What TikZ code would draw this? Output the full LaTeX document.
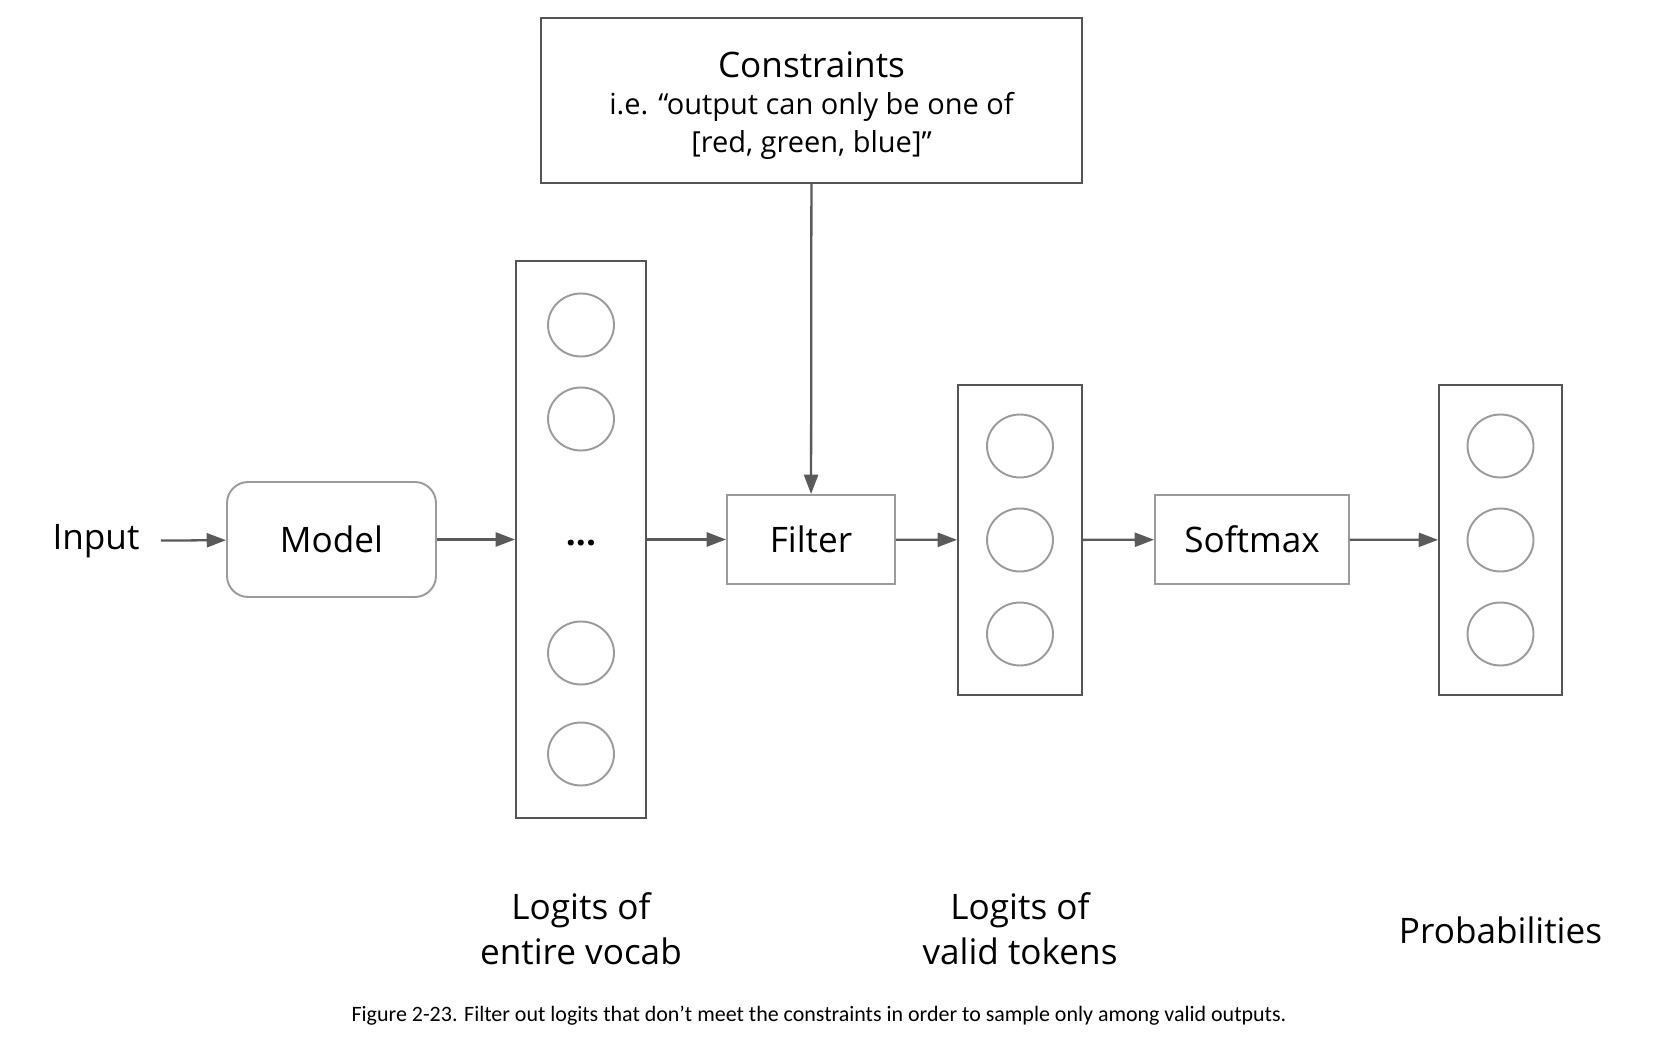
\documentclass[tikz,border=0pt]{standalone}
\usepackage{fontspec}
\setmainfont{Open Sans}
\newfontfamily\captionfont{Carlito}
\usetikzlibrary{positioning, shapes.geometric, arrows.meta}
\definecolor{fgDark}{RGB}{85,85,85}
\definecolor{fgLight}{RGB}{155,155,155}
\definecolor{fgArrow}{RGB}{90,90,90}

\begin{document}
\begin{tikzpicture}[x=0.02cm, y=-0.02cm, font=\fontsize{20}{24}\selectfont,
	darkbox/.style={draw=fgDark, line width=1.1pt, inner sep=0pt},
	lightbox/.style={draw=fgLight, line width=1.1pt, minimum height=1.78cm, inner sep=0pt},
	token/.style={draw=fgLight, line width=1.1pt, ellipse, minimum width=1.32cm, minimum height=1.26cm, inner sep=0pt},
	flow/.style={-{Triangle[length=11pt,width=8pt]}, line width=1.3pt, draw=fgArrow},
	caption/.style={align=center, font=\fontsize{20}{25.6}\selectfont}]
	\useasboundingbox (0,0) rectangle (1666,1050);
	% boxes
	\node[darkbox, minimum width=10.82cm, minimum height=3.3cm, align=center] (constraints) at (811.5,100.5) {\fontsize{20}{24}\selectfont\rule{0pt}{20pt}Constraints\\[-3pt] \fontsize{16.5}{22}\selectfont i.e. “output can only be one of\\[-2.4pt] \fontsize{16.5}{20}\selectfont {[red, green, blue]”}};
	\node[inner sep=12pt] (input) at (96,541) {Input};
	\node[lightbox, rounded corners=12pt, minimum width=4.18cm, minimum height=2.3cm] (model) at (331.5,539.5) {Model};
	\node[darkbox, minimum width=2.6cm, minimum height=11.14cm] (vocab) at (581,539.5) {};
	\node[lightbox, minimum width=3.36cm] (filter) at (811,539.5) {Filter};
	\node[darkbox, minimum width=2.48cm, minimum height=6.2cm] (valid) at (1020,540) {};
	\node[lightbox, minimum width=3.88cm] (softmax) at (1252,539.5) {Softmax};
	\node[darkbox, minimum width=2.46cm, minimum height=6.2cm] (probs) at (1500.5,540) {};
	% tokens
	\foreach \y [count=\i] in {325,419,653,754}
		\node[token] (vocab\i) at (581,\y) {};
	\node[font=\fontsize{20}{24}\bfseries] (dots) at (581,543) {...};
	\foreach \y [count=\i] in {446,540,634} {
		\node[token] (valid\i) at (1020,\y) {};
		\node[token] (probs\i) at (1500.5,\y) {};
	}
	% labels
	\node[caption] (vocablabel) at (581,929) {Logits of\\entire vocab};
	\node[caption] (validlabel) at (1020,929) {Logits of\\valid tokens};
	\node[caption] (probslabel) at (1500.5,930) {Probabilities};
	\node[font=\captionfont\fontsize{12.5}{15}\selectfont] (figcaption) at (819,1016) {Figure 2-23. Filter out logits that don’t meet the constraints in order to sample only among valid outputs.};
	% arrows
	\draw[flow] (input) -- (model);
	\draw[flow] (model) -- (vocab);
	\draw[flow] (vocab) -- (filter);
	\draw[flow] (constraints) -- (filter);
	\draw[flow] (filter) -- (valid);
	\draw[flow] (valid) -- (softmax);
	\draw[flow] (softmax) -- (probs);
\end{tikzpicture}
\end{document}
